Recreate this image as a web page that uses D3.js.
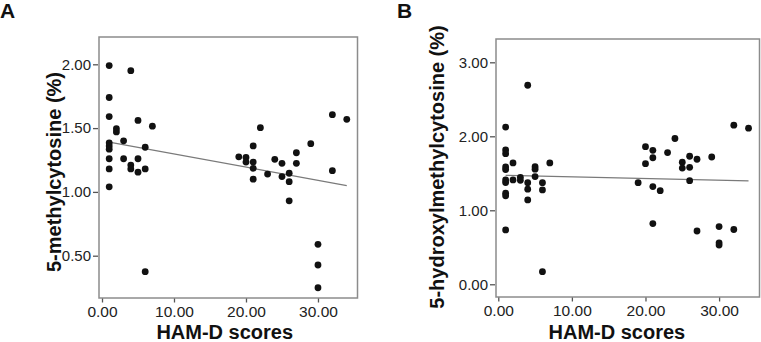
<!DOCTYPE html>
<html>
<head>
<meta charset="utf-8">
<script src="https://cdn.jsdelivr.net/npm/d3@7"></script>
<style>
  html, body { margin: 0; padding: 0; background: #fff; }
  svg { display: block; }
  text { font-family: "Liberation Sans", Arial, Helvetica, sans-serif; }
</style>
</head>
<body>
<svg id="chart" width="761" height="342"></svg>
<script>
// ---- Data ----
const hamdA = [1,1,1,1,1,1,1,1,1, 2,2, 3,3, 4,4,4, 5,5,5, 6,6,6, 7,
  19, 20,20, 21,21,21,21, 22, 23, 24, 25,25, 26,26,26, 27,27, 29, 30,30,30, 32,32, 34];
const methylA = [1.99,1.74,1.59,1.385,1.36,1.335,1.26,1.18,1.04, 1.495,1.47, 1.40,1.26, 1.95,1.21,1.18, 1.56,1.26,1.155, 1.35,1.18,0.375, 1.515,
  1.275, 1.27,1.234, 1.36,1.234,1.185,1.10, 1.503, 1.14, 1.255, 1.224,1.12, 1.146,1.08,0.93, 1.307,1.224, 1.378, 0.589,0.427,0.249, 1.605,1.166, 1.569];

const hamdB = [1,1,1,1,1,1,1,1,1,1, 2,2, 3,3, 4,4,4,4, 5,5,5, 6,6,6, 7,
  19, 20,20, 21,21,21,21, 22, 23, 24, 25,25, 26,26,26, 27,27, 29, 30,30,30, 32,32, 34];
const hydroxyB = [2.125,1.815,1.765,1.585,1.55,1.41,1.375,1.23,1.195,0.735, 1.64,1.41, 1.445,1.405, 2.69,1.373,1.285,1.14, 1.59,1.555,1.455, 1.373,1.275,0.17, 1.64,
  1.373, 1.86,1.63, 1.81,1.71,1.32,0.82, 1.265, 1.78, 1.97, 1.65,1.57, 1.73,1.58,1.40, 1.69,0.72, 1.72, 0.78,0.56,0.53, 2.15,0.74, 2.11];

const xTicks = [0, 10, 20, 30];
const yTicksA = [0.5, 1.0, 1.5, 2.0];
const yTicksB = [0, 1, 2, 3];

const panelLabels = ["A", "B"];
const xTitle = "HAM-D scores";
const yTitles = ["5-methylcytosine (%)", "5-hydroxylmethylcytosine (%)"];

// ---- Drawing ----
const svg = d3.select("#chart");

function linReg(xs, ys) {
  const mx = d3.mean(xs), my = d3.mean(ys);
  let sxy = 0, sxx = 0;
  xs.forEach((x, i) => { sxy += (x - mx) * (ys[i] - my); sxx += (x - mx) * (x - mx); });
  const b = sxy / sxx;
  return { a: my - b * mx, b };
}

function panel(cfg) {
  const g = svg.append("g");
  const x = d3.scaleLinear().domain(cfg.xDomain).range([cfg.left, cfg.right]);
  const y = d3.scaleLinear().domain(cfg.yDomain).range([cfg.bottom, cfg.top]);

  // frame
  g.append("rect")
    .attr("x", cfg.left).attr("y", cfg.top)
    .attr("width", cfg.right - cfg.left).attr("height", cfg.bottom - cfg.top)
    .attr("fill", "none").attr("stroke", "#8c8c8c").attr("stroke-width", 1.5);

  // axes
  const yAxis = d3.axisLeft(y).tickValues(cfg.yTicks).tickFormat(d3.format(".2f")).tickSizeOuter(0).tickSize(5).tickPadding(2);
  const ya = g.append("g").attr("transform", `translate(${cfg.left - 1},0)`).call(yAxis);
  ya.select(".domain").remove();
  ya.selectAll(".tick line").attr("stroke", "#555").attr("stroke-width", 1.3);
  ya.selectAll(".tick text").attr("font-size", 15).attr("fill", "#222")
    .attr("font-family", '"Liberation Sans", Arial, sans-serif');

  const xAxis = d3.axisBottom(x).tickValues(cfg.xTicks).tickFormat(d3.format(".2f")).tickSizeOuter(0).tickSize(4).tickPadding(3);
  const xa = g.append("g").attr("transform", `translate(0,${cfg.bottom + 0.5})`).call(xAxis);
  xa.select(".domain").remove();
  xa.selectAll(".tick line").attr("stroke", "#555").attr("stroke-width", 1.3);
  xa.selectAll(".tick text").attr("font-size", 15.5).attr("fill", "#222")
    .attr("font-family", '"Liberation Sans", Arial, sans-serif');

  // regression line
  const r = linReg(cfg.xs, cfg.ys);
  const x0 = d3.min(cfg.xs), x1 = d3.max(cfg.xs);
  g.append("line")
    .attr("x1", x(x0)).attr("y1", y(r.a + r.b * x0))
    .attr("x2", x(x1)).attr("y2", y(r.a + r.b * x1))
    .attr("stroke", "#7a7a7a").attr("stroke-width", 1.3);

  // points
  g.selectAll("circle.pt").data(cfg.xs.map((v, i) => [v, cfg.ys[i]])).enter()
    .append("circle").attr("class", "pt")
    .attr("cx", d => x(d[0])).attr("cy", d => y(d[1])).attr("r", 3.4)
    .attr("fill", "#111");

  // titles
  g.append("text").attr("x", (x(cfg.xTicks[0]) + cfg.right) / 2 + cfg.xTitleShift).attr("y", 339)
    .attr("text-anchor", "middle").attr("font-size", 20).attr("font-weight", "bold")
    .attr("fill", "#111").text(xTitle);
  g.append("text")
    .attr("transform", `translate(${cfg.yTitleX},${cfg.yTitleY}) rotate(-90)`)
    .attr("text-anchor", "middle").attr("font-size", 20).attr("font-weight", "bold")
    .attr("fill", "#111").text(cfg.yTitle);
  g.append("text").attr("x", cfg.labelX).attr("y", 18)
    .attr("font-size", 21).attr("font-weight", "bold").attr("fill", "#111").text(cfg.label);
}

// Panel A
panel({
  left: 99, right: 357.5, top: 37, bottom: 298,
  xDomain: [-0.417, 35.49], yDomain: [0.1685, 2.214],
  xTicks, yTicks: yTicksA, xs: hamdA, ys: methylA,
  yTitle: yTitles[0], yTitleX: 61, yTitleY: 172, xTitleShift: -5,
  label: panelLabels[0], labelX: 0
});

// Panel B
panel({
  left: 496, right: 759.5, top: 39, bottom: 297,
  xDomain: [-0.31, 35.49], yDomain: [-0.172, 3.315],
  xTicks, yTicks: yTicksB, xs: hamdB, ys: hydroxyB,
  yTitle: yTitles[1], yTitleX: 444, yTitleY: 167, xTitleShift: -12,
  label: panelLabels[1], labelX: 397
});
</script>
</body>
</html>
